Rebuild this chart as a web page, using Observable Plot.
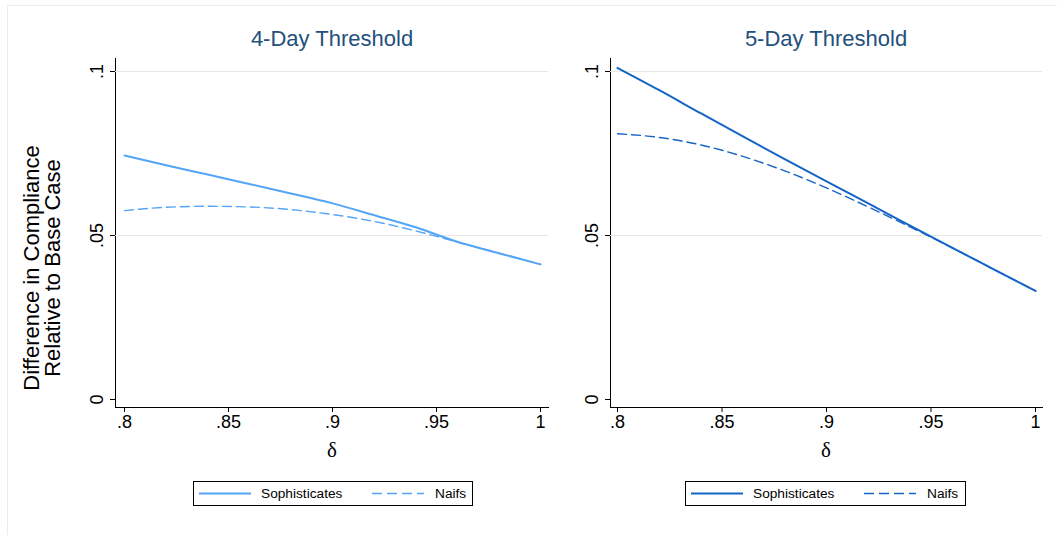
<!DOCTYPE html>
<html><head><meta charset="utf-8">
<script src="https://cdn.jsdelivr.net/npm/d3@7"></script>
<script src="https://cdn.jsdelivr.net/npm/@observablehq/plot@0.6"></script>
<style>
body{margin:0;background:#fff;}
#wrap{position:relative;width:1057px;height:535px;overflow:hidden;font-family:"Liberation Sans",Arial,sans-serif;background:#fff;}
.outer{position:absolute;left:7px;top:5px;width:1060px;height:560px;border:1px solid #ececec;}
.panel{position:absolute;top:0;}
.title{position:absolute;top:28px;font-size:22px;line-height:22px;color:#23507d;transform:translateX(-50%);white-space:nowrap;}
.xlab{position:absolute;top:440px;font-family:"Liberation Serif","DejaVu Serif",serif;font-size:21px;line-height:21px;transform:translateX(-50%);}
.ylab{position:absolute;left:42px;top:268px;font-size:22px;line-height:21px;text-align:center;white-space:nowrap;transform:translate(-50%,-50%) rotate(-90deg);}
.legend{position:absolute;top:481px;height:25px;border:1px solid #000;box-sizing:border-box;background:#fff;}
.legend svg{position:absolute;top:0;}
.legend span{position:absolute;top:4px;font-size:13.7px;line-height:16px;white-space:nowrap;}
</style>
</head><body>
<div id="wrap"><div class="outer"></div></div>
<script>
// ---- data ----
const delta = [0.80, 0.82, 0.84, 0.86, 0.88, 0.90, 0.92, 0.94, 0.96, 0.98, 1.00];
const soph4 = [0.0744, 0.0714, 0.0686, 0.0657, 0.0628, 0.0598, 0.0562, 0.0525, 0.0481, 0.0446, 0.0412];
const naif4 = [0.0576, 0.0586, 0.0589, 0.0587, 0.0579, 0.0564, 0.0543, 0.0514, 0.0480, 0.0446, 0.0412];
const soph5 = [0.1011, 0.0943, 0.0872, 0.0802, 0.0733, 0.0665, 0.0598, 0.0530, 0.0463, 0.0397, 0.0331];
const naif5 = [0.0810, 0.0799, 0.0776, 0.0741, 0.0697, 0.0645, 0.0587, 0.0526, 0.0463, 0.0397, 0.0331];
const seriesNames = ["Sophisticates", "Naifs"];
const panelTitles = ["4-Day Threshold", "5-Day Threshold"];
const xTicks = [0.80, 0.85, 0.90, 0.95, 1.00];
const xTickLabels = [".8", ".85", ".9", ".95", "1"];
const yTicks = [0, 0.05, 0.10];
const yTickLabels = ["0", ".05", ".1"];
const gridValues = [0.05, 0.10];
const xTitle = "δ";
const yTitle = ["Difference in Compliance", "Relative to Base Case"];

const wrap = document.getElementById("wrap");
const FONT = '"Liberation Sans", Arial, sans-serif';

function rows(vals, name) { return delta.map((d, i) => ({delta: d, value: vals[i], series: name})); }

function panel(cfg) {
  // plot region is padded beyond the data range (Stata style): pixel paddings -> domain padding
  const xSpan = cfg.width - cfg.ml - cfg.mr - cfg.il - cfg.ir; // px for 0.8..1
  const ySpan = 535 - 58 - 128 - 13 - 8;                       // px for 0..0.1
  const xDom = [0.8 - 0.2 * cfg.il / xSpan, 1 + 0.2 * cfg.ir / xSpan];
  const yDom = [0 - 0.1 * 8 / ySpan, 0.1 + 0.1 * 13 / ySpan];
  const chart = Plot.plot({
    width: cfg.width, height: 535,
    marginLeft: cfg.ml, marginRight: cfg.mr, marginTop: 58, marginBottom: 128,
    x: {domain: xDom, ticks: xTicks, tickFormat: d => xTickLabels[xTicks.indexOf(d)], tickSize: 5, tickPadding: 3, label: null, line: true},
    y: {domain: yDom, ticks: yTicks, tickFormat: () => "", tickSize: 5, tickPadding: 0, label: null, line: true},
    style: {fontFamily: FONT, fontSize: "18px", color: "#000", background: "transparent", overflow: "visible"},
    marks: [
      Plot.ruleY(gridValues, {y: d => d, stroke: "#e6e6e6", strokeWidth: 1}),
      Plot.text(yTicks, {y: d => d, text: (d, i) => yTickLabels[i], frameAnchor: "left", dx: -13, rotate: -90, textAnchor: "middle", lineAnchor: "bottom", fontSize: 18, fill: "#000"}),
      Plot.line(rows(cfg.naif, seriesNames[1]), {x: "delta", y: "value", stroke: cfg.color, strokeWidth: 1.4, strokeDasharray: "9,5", curve: "monotone-x"}),
      Plot.line(rows(cfg.soph, seriesNames[0]), {x: "delta", y: "value", stroke: cfg.color, strokeWidth: 2, curve: "monotone-x"})
    ]
  });
  chart.classList.add("panel");
  chart.style.left = cfg.left + "px";
  wrap.appendChild(chart);

  const t = document.createElement("div");
  t.className = "title"; t.textContent = cfg.title; t.style.left = cfg.cx + "px";
  wrap.appendChild(t);
  const xl = document.createElement("div");
  xl.className = "xlab"; xl.textContent = xTitle; xl.style.left = cfg.cx + "px";
  wrap.appendChild(xl);

  const lg = document.createElement("div");
  lg.className = "legend"; lg.style.left = cfg.lgLeft + "px"; lg.style.width = cfg.lgW + "px";
  lg.innerHTML =
    `<svg width="${cfg.lgW}" height="25" style="left:-1px;top:-1px"><line x1="6" x2="58" y1="12.5" y2="12.5" stroke="${cfg.color}" stroke-width="2"/>` +
    `<line x1="179" x2="231" y1="12.5" y2="12.5" stroke="${cfg.color}" stroke-width="1.4" stroke-dasharray="10,5"/></svg>` +
    `<span style="left:67px">${seriesNames[0]}</span><span style="left:241px">${seriesNames[1]}</span>`;
  wrap.appendChild(lg);
}

panel({left: 0, width: 560, ml: 115, mr: 12, il: 9, ir: 8, soph: soph4, naif: naif4, color: "#55a5f7", title: panelTitles[0], cx: 332, lgLeft: 193, lgW: 280});
panel({left: 500, width: 557, ml: 110, mr: 15, il: 7, ir: 7, soph: soph5, naif: naif5, color: "#1565c6", title: panelTitles[1], cx: 826, lgLeft: 685, lgW: 281});

const yl = document.createElement("div");
yl.className = "ylab"; yl.innerHTML = yTitle.join("<br>");
wrap.appendChild(yl);
</script>
</body></html>
